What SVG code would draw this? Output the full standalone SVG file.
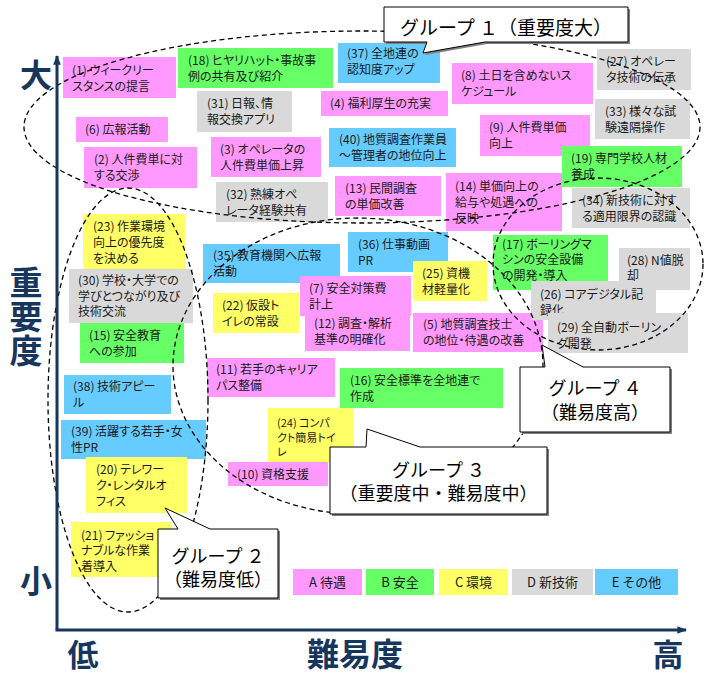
<svg xmlns="http://www.w3.org/2000/svg" width="712" height="675" viewBox="0 0 712 675">
<defs>
<style>
.bx text{font-family:"Noto Sans CJK JP","Noto Sans CJK SC",sans-serif;font-size:12px;fill:#1a1a1a;font-feature-settings:"palt"}
.pink{fill:#ff99ff}.green{fill:#66ff66}.yellow{fill:#ffff66}.gray{fill:#d9d9d9}.blue{fill:#66ccff}
.ell{fill:none;stroke:#000;stroke-width:1.3;stroke-dasharray:5 3.5}
.co{fill:#fff;stroke:#000;stroke-width:1}
.sh{fill:#808080}
.cot{font-family:"Noto Sans CJK JP","Noto Sans CJK SC",sans-serif;font-size:18px;fill:#000;text-anchor:middle}
.ax{font-family:"Noto Sans CJK JP","Noto Sans CJK SC",sans-serif;font-weight:700;fill:#17365d;text-anchor:middle}
.lg text{font-family:"Noto Sans CJK JP","Noto Sans CJK SC",sans-serif;font-size:13px;fill:#1a1a1a;text-anchor:middle}
</style>
<marker id="ah" viewBox="0 0 10 8" refX="9" refY="4" markerWidth="3.2" markerHeight="2.6" orient="auto" markerUnits="strokeWidth">
<path d="M0,0 L10,4 L0,8 Z" fill="#17365d"/>
</marker>
</defs>
<rect width="712" height="675" fill="#fff"/>

<g id="nodes" class="bx">
<g id="n1"><rect class="pink" x="63" y="57" width="113" height="41"/><text x="72" y="74.5">(1) ウィークリー<tspan x="72" dy="16">スタンスの提言</tspan></text></g>
<g id="n18"><rect class="green" x="178" y="48" width="155" height="40"/><text x="188" y="64.5">(18) ヒヤリハット・事故事<tspan x="188" dy="16">例の共有及び紹介</tspan></text></g>
<g id="n37"><rect class="blue" x="338" y="43" width="102" height="40"/><text x="347" y="57.5">(37) 全地連の<tspan x="347" dy="16">認知度アップ</tspan></text></g>
<g id="n31"><rect class="gray" x="197" y="91" width="95" height="41"/><text x="207" y="108">(31) 日報、情<tspan x="207" dy="16">報交換アプリ</tspan></text></g>
<g id="n4"><rect class="pink" x="321" y="91" width="127" height="25"/><text x="330" y="108">(4) 福利厚生の充実</text></g>
<g id="n8"><rect class="pink" x="452" y="63" width="141" height="41"/><text x="461" y="80">(8) 土日を含めないス<tspan x="461" dy="16">ケジュール</tspan></text></g>
<g id="n27"><rect class="gray" x="597" y="49" width="94" height="41"/><text x="606" y="66">(27) オペレー<tspan x="606" dy="16">タ技術の伝承</tspan></text></g>
<g id="n33"><rect class="gray" x="595" y="99" width="95" height="40"/><text x="605" y="115.5">(33) 様々な試<tspan x="605" dy="16">験遠隔操作</tspan></text></g>
<g id="n6"><rect class="pink" x="76" y="117" width="92" height="25"/><text x="85" y="134">(6) 広報活動</text></g>
<g id="n2"><rect class="pink" x="84" y="147" width="113" height="41"/><text x="94" y="164">(2) 人件費単に対<tspan x="94" dy="16">する交渉</tspan></text></g>
<g id="n3"><rect class="pink" x="211" y="137" width="110" height="40"/><text x="220" y="153.5">(3) オペレータの<tspan x="220" dy="16">人件費単価上昇</tspan></text></g>
<g id="n40"><rect class="blue" x="329" y="128" width="127" height="39"/><text x="339" y="144">(40) 地質調査作業員<tspan x="339" dy="16">～管理者の地位向上</tspan></text></g>
<g id="n9"><rect class="pink" x="480" y="115" width="110" height="41"/><text x="489" y="132">(9) 人件費単価<tspan x="489" dy="16">向上</tspan></text></g>
<g id="n19"><rect class="green" x="562" y="146" width="120" height="41"/><text x="571" y="163">(19) 専門学校人材<tspan x="571" dy="16">養成</tspan></text></g>
<g id="n32"><rect class="gray" x="216" y="182" width="112" height="40"/><text x="226" y="198.5">(32) 熟練オペ<tspan x="226" dy="16">レータ経験共有</tspan></text></g>
<g id="n13"><rect class="pink" x="335" y="176" width="106" height="40"/><text x="345" y="192.5">(13) 民間調査<tspan x="345" dy="16">の単価改善</tspan></text></g>
<g id="n14"><rect class="pink" x="446" y="173" width="116" height="58"/><text x="455" y="190.5">(14) 単価向上の<tspan x="455" dy="16">給与や処遇への</tspan><tspan x="455" dy="16">反映</tspan></text></g>
<g id="n34"><rect class="gray" x="572" y="188" width="118" height="40"/><text x="582" y="204.5">(34) 新技術に対す<tspan x="582" dy="16">る適用限界の認識</tspan></text></g>
<g id="n23"><rect class="yellow" x="83" y="214" width="102" height="55"/><text x="93" y="230.5">(23) 作業環境<tspan x="93" dy="16">向上の優先度</tspan><tspan x="93" dy="16">を決める</tspan></text></g>
<g id="n30"><rect class="gray" x="69" y="269" width="124" height="54"/><text x="78" y="285">(30) 学校・大学での<tspan x="78" dy="15.5">学びとつながり及び</tspan><tspan x="78" dy="15.5">技術交流</tspan></text></g>
<g id="n15"><rect class="green" x="80" y="323" width="104" height="40"/><text x="89" y="339.5">(15) 安全教育<tspan x="89" dy="16">への参加</tspan></text></g>
<g id="n38"><rect class="blue" x="64" y="375" width="107" height="39"/><text x="73" y="391">(38) 技術アピー<tspan x="73" dy="16">ル</tspan></text></g>
<g id="n39"><rect class="blue" x="61" y="420" width="145" height="39"/><text x="71" y="436">(39) 活躍する若手・女<tspan x="71" dy="16">性PR</tspan></text></g>
<g id="n20"><rect class="yellow" x="86" y="457" width="101" height="56"/><text x="96" y="473.5">(20) テレワー<tspan x="96" dy="16">ク・レンタルオ</tspan><tspan x="96" dy="16">フィス</tspan></text></g>
<g id="n21"><rect class="yellow" x="71" y="522" width="100" height="55"/><text x="81" y="539.5">(21) ファッショ<tspan x="81" dy="15.5">ナブルな作業</tspan><tspan x="81" dy="15.5">着導入</tspan></text></g>
<g id="n35"><rect class="blue" x="203" y="244" width="137" height="39"/><text x="213" y="260">(35) 教育機関へ広報<tspan x="213" dy="16">活動</tspan></text></g>
<g id="n36"><rect class="blue" x="348" y="232" width="100" height="40"/><text x="358" y="248.5">(36) 仕事動画<tspan x="358" dy="16">PR</tspan></text></g>
<g id="n25"><rect class="yellow" x="413" y="261" width="74" height="40"/><text x="422" y="277.5">(25) 資機<tspan x="422" dy="16">材軽量化</tspan></text></g>
<g id="n7"><rect class="pink" x="300" y="276" width="111" height="40"/><text x="309" y="292.5">(7) 安全対策費<tspan x="309" dy="16">計上</tspan></text></g>
<g id="n22"><rect class="yellow" x="213" y="293" width="86" height="40"/><text x="222" y="309.5">(22) 仮設ト<tspan x="222" dy="16">イレの常設</tspan></text></g>
<g id="n12"><rect class="pink" x="305" y="316" width="105" height="35"/><text x="314" y="327.5">(12) 調査・解析<tspan x="314" dy="16">基準の明確化</tspan></text></g>
<g id="n5"><rect class="pink" x="413" y="313" width="130" height="39"/><text x="423" y="329">(5) 地質調査技士<tspan x="423" dy="16">の地位・待遇の改善</tspan></text></g>
<g id="n17"><rect class="green" x="493" y="235" width="115" height="55"/><text x="502" y="248.5">(17) ボーリングマ<tspan x="502" dy="15.5">シンの安全設備</tspan><tspan x="502" dy="15.5">の開発・導入</tspan></text></g>
<g id="n28"><rect class="gray" x="619" y="248" width="71" height="42"/><text x="627" y="265">(28) N値脱<tspan x="627" dy="15">却</tspan></text></g>
<g id="n26"><rect class="gray" x="531" y="281" width="125" height="39"/><text x="540" y="299">(26) コアデジタル記<tspan x="540" dy="15.5">録化</tspan></text></g>
<g id="n29"><rect class="gray" x="548" y="313" width="140" height="40"/><text x="557" y="332">(29) 全自動ボーリン<tspan x="557" dy="16">グ開発</tspan></text></g>
<g id="n11"><rect class="pink" x="207" y="358" width="128" height="39"/><text x="216" y="374">(11) 若手のキャリア<tspan x="216" dy="16">パス整備</tspan></text></g>
<g id="n16"><rect class="green" x="340" y="368" width="163" height="40"/><text x="350" y="384.5">(16) 安全標準を全地連で<tspan x="350" dy="16">作成</tspan></text></g>
<g id="n24"><rect class="yellow" x="268" y="408" width="86" height="55"/><text x="277" y="427" style="font-size:11px">(24) コンパ<tspan x="277" dy="14.5">クト簡易トイ</tspan><tspan x="277" dy="14.5">レ</tspan></text></g>
<g id="n10"><rect class="pink" x="228" y="462" width="100" height="24"/><text x="237" y="478.5">(10) 資格支援</text></g>
</g>

<g id="legend" class="lg">
<g id="lgA"><rect class="pink" x="293" y="569" width="69" height="26"/><text x="327.5" y="587">A 待遇</text></g>
<g id="lgB"><rect class="green" x="366" y="569" width="68" height="26"/><text x="400" y="587">B 安全</text></g>
<g id="lgC"><rect class="yellow" x="439" y="569" width="69" height="26"/><text x="473.5" y="587">C 環境</text></g>
<g id="lgD"><rect class="gray" x="512" y="569" width="81" height="26"/><text x="552.5" y="587">D 新技術</text></g>
<g id="lgE"><rect class="blue" x="595" y="569" width="83" height="26"/><text x="636.5" y="587">E その他</text></g>
</g>

<g id="group-outlines">
<ellipse class="ell" cx="362" cy="127" rx="338" ry="96"/>
<ellipse class="ell" cx="128" cy="400" rx="80" ry="212"/>
<ellipse class="ell" cx="358" cy="366" rx="185" ry="148"/>
<ellipse class="ell" cx="598" cy="264" rx="105" ry="86"/>
</g>

<g id="callout-g1">
<path class="sh" d="M386,9 H630 V44 H487 L425,55 L429,44 H386 Z"/>
<path class="co" d="M384,7 H628 V42 H485 L423,53 L427,42 H384 Z"/>
<text class="cot" x="506" y="35" style="font-size:19px">グループ １（重要度大）</text>
</g>
<g id="callout-g4">
<path class="sh" d="M522,369 H547 L544,347 L585,369 H672 V434 H522 Z"/>
<path class="co" d="M520,367 H545 L542,345 L583,367 H670 V432 H520 Z"/>
<text class="cot" x="595" y="395">グループ ４<tspan x="595" dy="24">（難易度高）</tspan></text>
</g>
<g id="callout-g3">
<path class="sh" d="M332,449 H368 L369,431 L422,449 H549 V516 H332 Z"/>
<path class="co" d="M330,447 H366 L367,429 L420,447 H547 V514 H330 Z"/>
<text class="cot" x="438.5" y="477">グループ ３<tspan x="438.5" dy="23">（重要度中・難易度中）</tspan></text>
</g>
<g id="callout-g2">
<path class="sh" d="M160,531 H180 L167,510 L212,531 H280 V600 H160 Z"/>
<path class="co" d="M158,529 H178 L165,508 L210,529 H278 V598 H158 Z"/>
<text class="cot" x="218" y="563">グループ ２<tspan x="218" dy="23">（難易度低）</tspan></text>
</g>

<g id="connectors">
<path d="M57,630 V56" fill="none" stroke="#17365d" stroke-width="3" marker-end="url(#ah)"/>
<path d="M55.5,630 H686" fill="none" stroke="#17365d" stroke-width="3" marker-end="url(#ah)"/>
</g>

<g id="axis-labels">
<text class="ax" x="36" y="87" style="font-size:32px">大</text>
<text class="ax" x="26" y="266" style="font-size:33px;writing-mode:vertical-rl;text-anchor:start;letter-spacing:1px">重要度</text>
<text class="ax" x="36" y="593" style="font-size:32px">小</text>
<text class="ax" x="83" y="666" style="font-size:31px">低</text>
<text class="ax" x="355" y="666" style="font-size:32px">難易度</text>
<text class="ax" x="668" y="666" style="font-size:31px">高</text>
</g>
</svg>
